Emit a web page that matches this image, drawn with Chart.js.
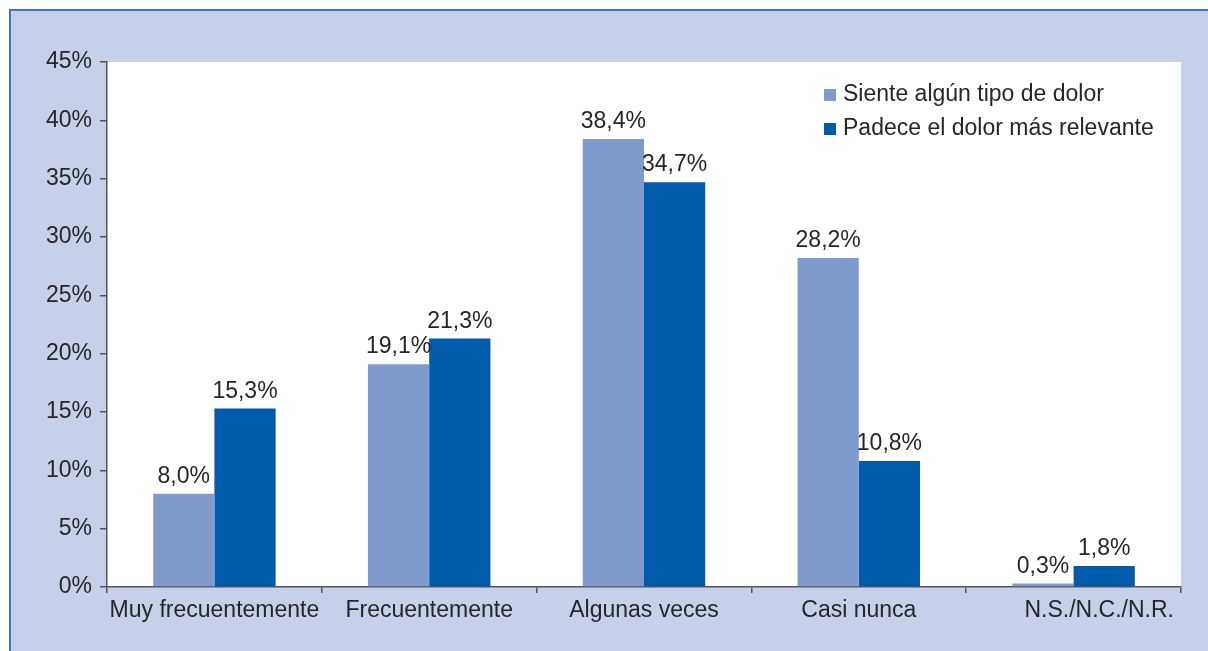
<!DOCTYPE html>
<html lang="es">
<head>
<meta charset="UTF-8">
<script src="https://cdn.jsdelivr.net/npm/chart.js@4"></script>
<style>
  html, body { margin: 0; padding: 0; background: #ffffff; width: 1208px; height: 651px; overflow: hidden; }
  .frame { position: absolute; left: 9px; top: 9px; width: 1199px; height: 642px; background: #c6d0e8;
           border-top: 2px solid #3f78c2; border-left: 2px solid #3f78c2; box-sizing: border-box; }
  #wrap { position: absolute; left: 0; top: 0; width: 1208px; height: 651px; }
</style>
</head>
<body>
<div class="frame"></div>
<div id="wrap"><canvas id="chart"></canvas></div>
<script>
// Datos
const categories = ['Muy frecuentemente', 'Frecuentemente', 'Algunas veces', 'Casi nunca', 'N.S./N.C./N.R.'];
const sienteDolor = [8.0, 19.1, 38.4, 28.2, 0.3];
const padeceDolor = [15.3, 21.3, 34.7, 10.8, 1.8];
const seriesNames = ['Siente algún tipo de dolor', 'Padece el dolor más relevante'];
const seriesColors = ['#7f9bcd', '#005bab'];

const FONT = '"Liberation Sans", Arial, sans-serif';
const SIZE = 23;
const TEXT = '#262626';

const fmt = v => v.toFixed(1).replace('.', ',') + '%';

// Fondo blanco del area de trazado, etiquetas de datos y leyenda
const extras = {
  id: 'extras',
  beforeDraw(chart) {
    const a = chart.chartArea, ctx = chart.ctx;
    ctx.save();
    ctx.fillStyle = '#ffffff';
    ctx.fillRect(a.left, a.top, a.right - a.left, a.bottom - a.top);
    ctx.restore();
  },
  afterDatasetsDraw(chart) {
    const ctx = chart.ctx;
    ctx.save();
    ctx.font = SIZE + 'px ' + FONT;
    ctx.fillStyle = TEXT;
    ctx.textAlign = 'center';
    ctx.textBaseline = 'alphabetic';
    chart.data.datasets.forEach((ds, i) => {
      chart.getDatasetMeta(i).data.forEach((bar, j) => {
        ctx.fillText(fmt(ds.data[j]), bar.x, bar.y - 11);
      });
    });
    // leyenda
    ctx.textAlign = 'left';
    ctx.textBaseline = 'middle';
    seriesNames.forEach((name, i) => {
      const y = 95 + i * 34;
      ctx.fillStyle = seriesColors[i];
      ctx.fillRect(824, y - 6, 12, 12);
      ctx.fillStyle = TEXT;
      ctx.fillText(name, 843, y);
    });
    ctx.restore();
  }
};

new Chart(document.getElementById('chart'), {
  type: 'bar',
  data: {
    labels: categories,
    datasets: [
      { label: seriesNames[0], data: sienteDolor, backgroundColor: seriesColors[0] },
      { label: seriesNames[1], data: padeceDolor, backgroundColor: seriesColors[1] }
    ]
  },
  options: {
    responsive: true,
    maintainAspectRatio: false,
    animation: false,
    datasets: { bar: { categoryPercentage: 0.57, barPercentage: 1.0 } },
    layout: { padding: { left: 0, right: 27, top: 62, bottom: 0 } },
    plugins: { legend: { display: false }, tooltip: { enabled: false } },
    scales: {
      x: {
        afterFit(scale) { scale.height = 64; },
        grid: { offset: true, drawOnChartArea: false, tickLength: 6, color: '#555555', lineWidth: 1.5 },
        border: { color: '#555555', width: 1.5 },
        ticks: {
          color: TEXT, font: { family: FONT, size: SIZE }, padding: 4, maxRotation: 0, autoSkip: false,
          callback(v, i) { return i === categories.length - 1 ? '        ' + categories[i] : categories[i]; }
        }
      },
      y: {
        min: 0, max: 45,
        afterFit(scale) { scale.width = 107; },
        grid: { drawOnChartArea: false, tickLength: 7, color: '#555555', lineWidth: 1.5 },
        border: { color: '#555555', width: 1.5 },
        ticks: {
          stepSize: 5, color: TEXT, font: { family: FONT, size: SIZE }, padding: 8,
          callback: v => v + '%'
        }
      }
    }
  },
  plugins: [extras]
});
</script>
</body>
</html>
